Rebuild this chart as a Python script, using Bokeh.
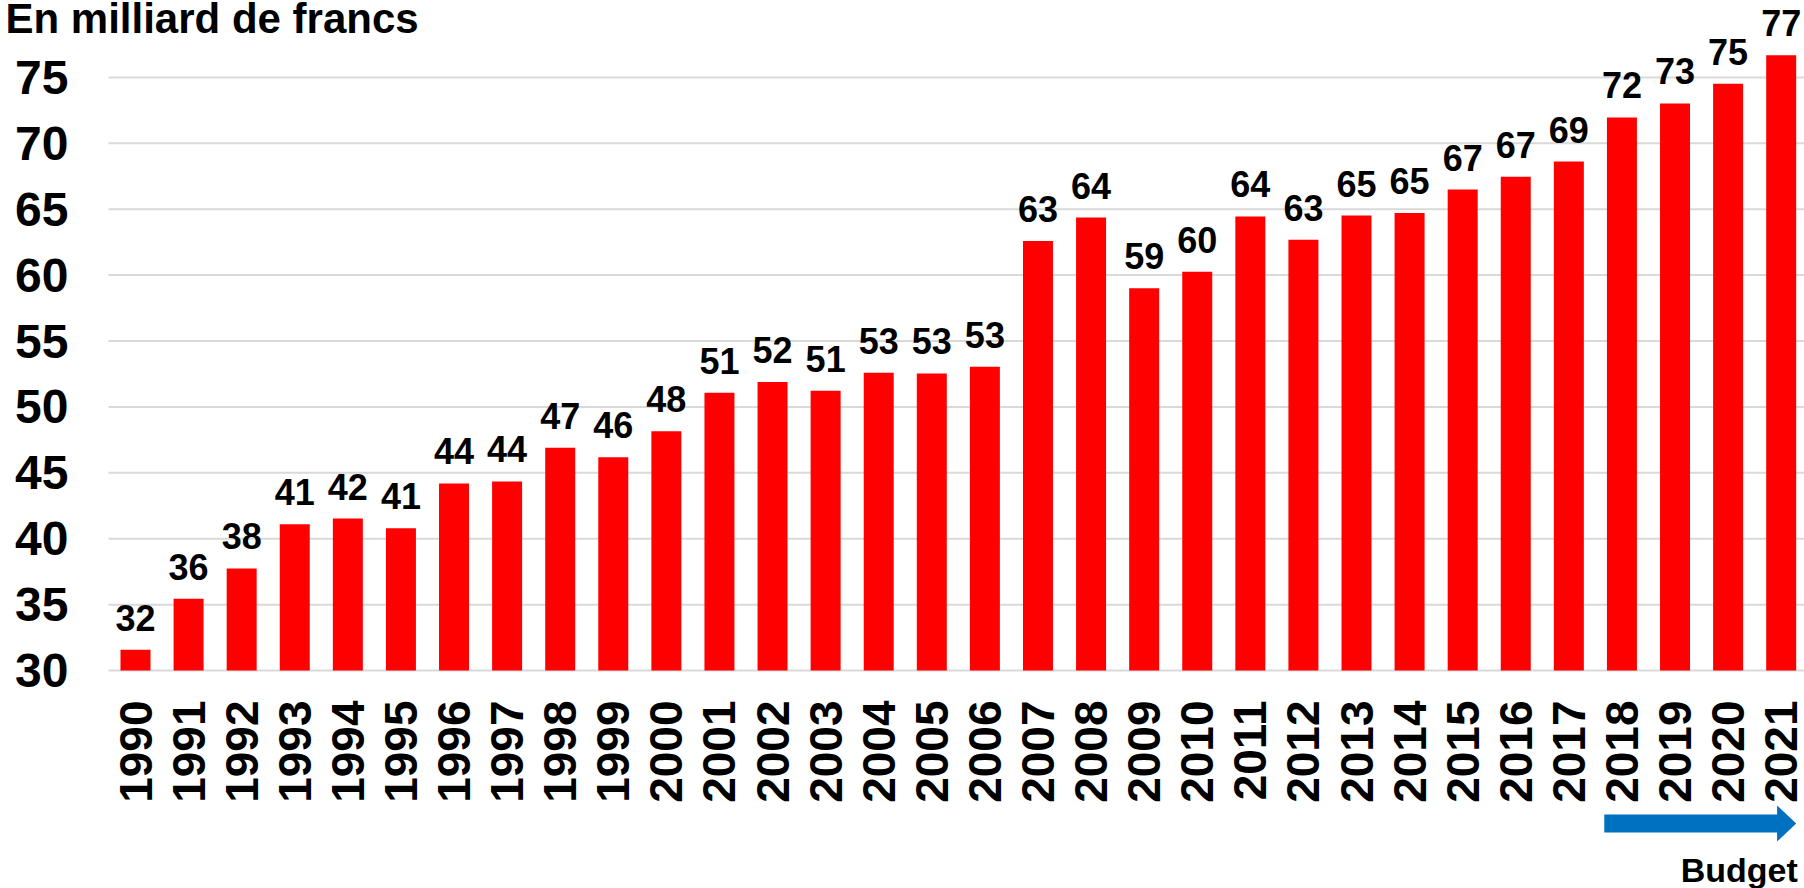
import math
from bokeh.plotting import figure
from bokeh.models import ColumnDataSource, Range1d, FixedTicker
from bokeh.layouts import column
from bokeh.core.properties import value
from bokeh.embed import file_html
from bokeh.resources import INLINE

# ---- data ----
years = [str(y) for y in range(1990, 2022)]
values = [31.57, 35.45, 37.75, 41.10, 41.53, 40.79, 44.20, 44.35, 46.90, 46.19,
          48.16, 51.08, 51.89, 51.23, 52.59, 52.54, 53.05, 62.58, 64.37, 59.00,
          60.26, 64.45, 62.68, 64.52, 64.71, 66.49, 67.47, 68.61, 71.96, 73.02,
          74.52, 76.67]
labels = ["32", "36", "38", "41", "42", "41", "44", "44", "47", "46",
          "48", "51", "52", "51", "53", "53", "53", "63", "64", "59",
          "60", "64", "63", "65", "65", "67", "67", "69", "72", "73",
          "75", "77"]
y_ticks = [30, 35, 40, 45, 50, 55, 60, 65, 70, 75]
budget_years = ["2018", "2019", "2020", "2021"]
title_text = "En milliard de francs"
budget_text = "Budget"

FONT = value("Liberation Sans")
RED = "#ff0000"
BLUE = "#0070c0"
GRID = "#d9d9d9"
BAR_W = 0.565

# ---- geometry ----
W = 1804
H1 = 805
H2 = 83
PLOT_LEFT_PX = 108          # where the plotting area starts
BOTTOM = 112                # room for the rotated year labels
PPX = 53.087                # pixels per category
X_LO_PLOT = -0.5086
X_LO = X_LO_PLOT - PLOT_LEFT_PX / PPX
X_HI = X_LO + W / PPX
BASE = 30                   # value at the foot of the bars
PPY = 13.22
Y_HI = BASE + 672 / PPY
Y_LO = Y_HI - (H1 - BOTTOM) / PPY

xs = list(range(len(years)))
src = ColumnDataSource(dict(x=xs, top=values, label=labels))

p = figure(width=W, height=H1, x_range=Range1d(X_LO, X_HI), y_range=Range1d(Y_LO, Y_HI),
           output_backend="svg", toolbar_location=None,
           min_border_left=0, min_border_right=0, min_border_top=0,
           min_border_bottom=BOTTOM)
p.outline_line_color = None
p.background_fill_color = "white"
p.border_fill_color = "white"
p.grid.visible = False

# horizontal gridlines limited to the plotting area
p.segment(x0=X_LO_PLOT, x1=X_HI, y0=y_ticks, y1=y_ticks, line_color=GRID, line_width=2)

p.vbar(x="x", top="top", bottom=BASE, width=BAR_W, source=src,
       fill_color=RED, line_color=None)
p.text(x="x", y="top", text="label", source=src, text_align="center",
       text_baseline="alphabetic", y_offset=-32, text_font=FONT,
       text_font_style="bold", text_font_size="36px", text_color="black")

# y axis drawn at the left edge of the plotting area
p.yaxis.fixed_location = X_LO_PLOT
p.yaxis.ticker = FixedTicker(ticks=y_ticks)
p.yaxis.axis_line_color = None
p.yaxis.major_tick_line_color = None
p.yaxis.minor_tick_line_color = None
p.yaxis.major_tick_out = 0
p.yaxis.major_tick_in = 0
p.yaxis.major_label_standoff = 40
p.yaxis.major_label_text_font = "Liberation Sans"
p.yaxis.major_label_text_font_style = "bold"
p.yaxis.major_label_text_font_size = "48px"
p.yaxis.major_label_text_color = "black"

# x axis
p.xaxis.ticker = FixedTicker(ticks=xs)
p.xaxis.major_label_overrides = {i: y for i, y in zip(xs, years)}
p.xaxis.major_label_orientation = math.pi / 2
p.xaxis.major_tick_line_color = None
p.xaxis.minor_tick_line_color = None
p.xaxis.major_tick_out = 0
p.xaxis.major_tick_in = 0
p.xaxis.major_label_standoff = 9
p.xaxis.axis_line_color = None
p.xaxis.major_label_text_font = "Liberation Sans"
p.xaxis.major_label_text_font_style = "bold"
p.xaxis.major_label_text_font_size = "46px"
p.xaxis.major_label_text_color = "black"

# title in the top-left corner
p.text(x=[X_LO + 5 / PPX], y=[Y_HI - 18 / PPY], text=[title_text], text_align="left",
       text_baseline="alphabetic", text_font=FONT, text_font_style="bold",
       text_font_size="42px", text_color="black")

# ---- budget arrow strip ----
p2 = figure(width=W, height=H2, x_range=p.x_range, y_range=Range1d(H2, 0),
            output_backend="svg", toolbar_location=None,
            min_border_left=0, min_border_right=0, min_border_top=0,
            min_border_bottom=0, x_axis_location=None, y_axis_location=None)
p2.outline_line_color = None
p2.grid.visible = False

x0 = years.index(budget_years[0]) - BAR_W / 2 - 0.05
x1 = years.index(budget_years[-1]) + BAR_W / 2
head = 0.36
ax = [x0, x1 - head, x1 - head, x1, x1 - head, x1 - head, x0]
ay = [9, 9, 0, 18, 36, 27, 27]
p2.patch(ax, ay, fill_color=BLUE, line_color=None)
p2.text(x=[x1 + 0.03], y=[64], text=[budget_text], text_align="right", text_baseline="alphabetic",
        text_font=FONT, text_font_style="bold", text_font_size="34px", text_color="black")

layout = column(p, p2, spacing=0)
open("out.html", "w").write(file_html(layout, INLINE))
